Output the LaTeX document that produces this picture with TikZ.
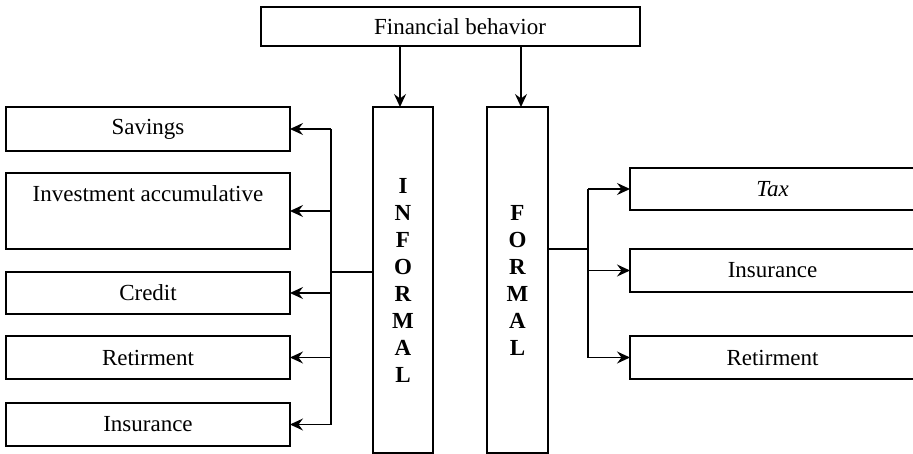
\documentclass[tikz,border=0pt]{standalone}
\usepackage{fontspec}
\setmainfont{Liberation Serif}
\usetikzlibrary{arrows.meta}
\begin{document}
\begin{tikzpicture}[x=1pt,y=-1pt,
  line width=1.3pt,
  every node/.style={inner sep=0pt, outer sep=0pt},
  box/.style={draw, rectangle, font=\fontsize{23}{27}\selectfont, align=center},
  sidebox/.style={box, minimum width=284pt},
  colbox/.style={draw, rectangle, minimum width=60pt, minimum height=346pt,
    font=\fontsize{23}{27}\selectfont\bfseries, align=center},
  arr/.style={-{Stealth[length=13pt,width=12pt,inset=4.5pt]}}]
\clip (0,0) rectangle (913,454);

% heading
\node[box, minimum width=379pt, minimum height=39pt] (fin) at (450.5,26.5)
  {\hspace*{19pt}Financial behavior};

% the two branches
\node[colbox] (inf) at (403,280) {I\\N\\F\\O\\R\\M\\A\\L};
\node[colbox, minimum width=61pt] (for) at (517.5,280) {F\\O\\R\\M\\A\\L};

% informal products
\node[sidebox, minimum height=44pt] (sav) at (148,129) {Savings};
\node[sidebox, minimum height=76pt] (inv) at (148,211) {Investment accumulative\\\strut};
\node[sidebox, minimum height=42pt] (cre) at (148,293) {Credit};
\node[sidebox, minimum height=43pt] (ret) at (148,357.5) {Retirment};
\node[sidebox, minimum height=43pt] (ins) at (148,424.5) {Insurance};

% formal products
\node[sidebox, minimum width=285pt, minimum height=42pt] (tax) at (772.5,189) {\itshape Tax};
\node[sidebox, minimum width=285pt, minimum height=43pt] (fins) at (772.5,270.5) {Insurance};
\node[sidebox, minimum width=285pt, minimum height=43pt] (fret) at (772.5,357.5) {Retirment};

% heading to branches
\coordinate (t1) at (400,0);
\coordinate (t2) at (521,0);
\draw[arr] (t1 |- fin.south) -- (t1 |- inf.north);
\draw[arr] (t2 |- fin.south) -- (t2 |- for.north);

% informal bus
\coordinate (busL) at (331,272);
\draw (busL -| inf.west) -- (busL);
\draw (sav.east -| busL) -- (ins.east -| busL);
\foreach \n in {sav,inv,cre,ret,ins}
  \draw[arr] (\n.east -| busL) -- (\n.east);

% formal bus
\coordinate (busR) at (588,249);
\draw (busR -| for.east) -- (busR);
\draw (tax.west -| busR) -- (fret.west -| busR);
\foreach \n in {tax,fins,fret}
  \draw[arr] (\n.west -| busR) -- (\n.west);
\end{tikzpicture}
\end{document}
